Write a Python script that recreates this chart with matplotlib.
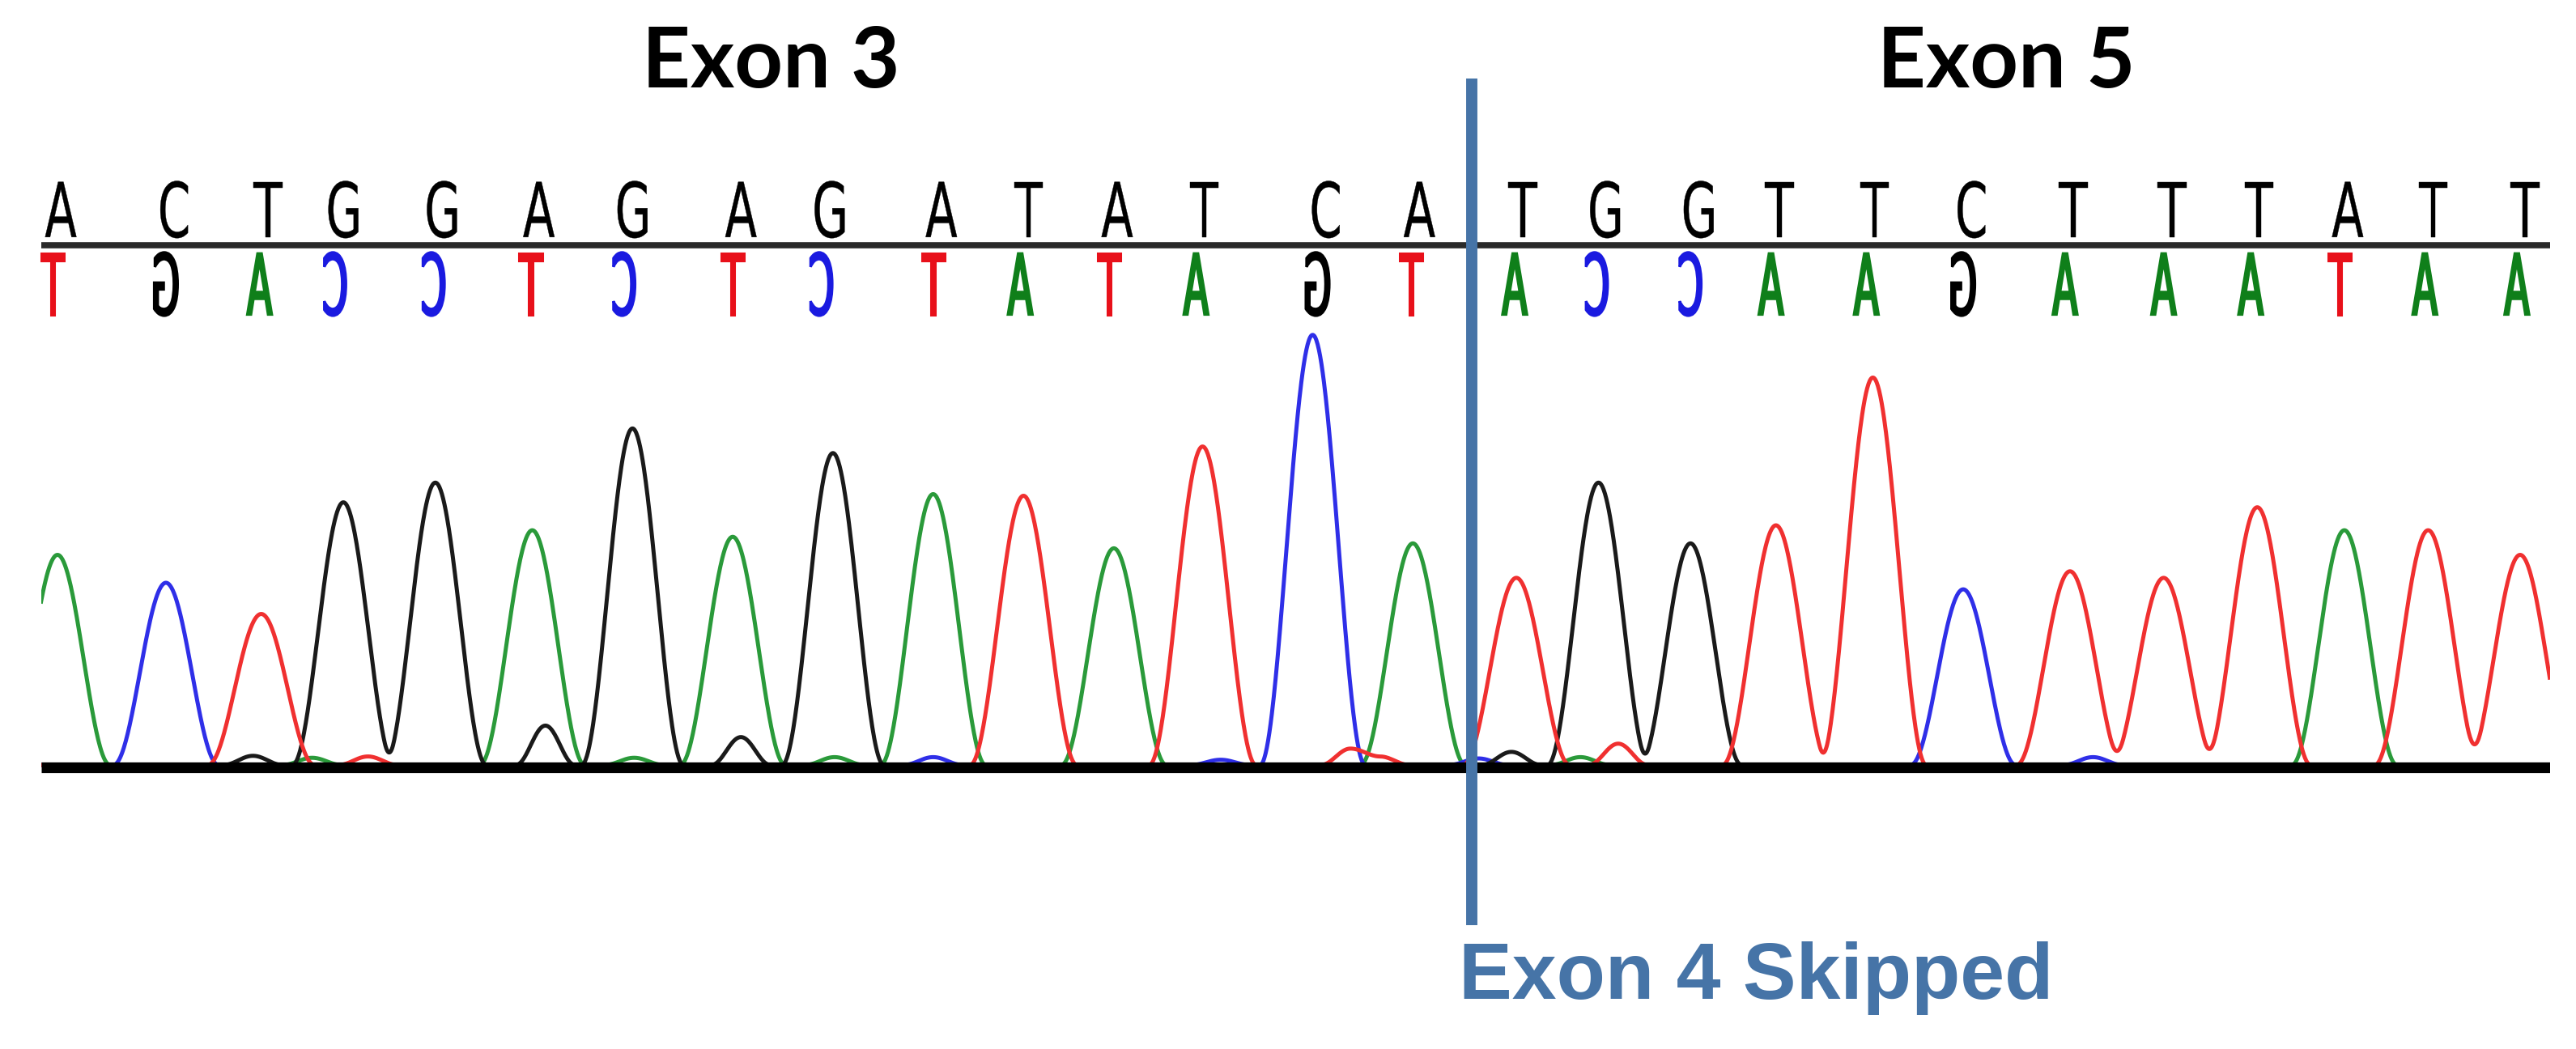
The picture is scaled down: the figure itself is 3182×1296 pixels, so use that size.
import numpy as np
import matplotlib
matplotlib.use('Agg')
import matplotlib.pyplot as plt
from matplotlib.textpath import TextPath
from matplotlib.patches import PathPatch
from matplotlib.font_manager import FontProperties
from matplotlib.transforms import Affine2D

# base calls (exon 3 | exon 5) and where the caller put them (scan units)
bases = list("ACTGGAGAGATATCA" + "TGGTTCTTTATT")
call_pos = [37, 106, 163, 209, 269, 328, 385, 451, 505, 573, 626, 680, 733, 807, 864,
            927, 977, 1034, 1083, 1141, 1200, 1262, 1322, 1375, 1429, 1481, 1537]
complement = {'A': 'T', 'C': 'G', 'G': 'C', 'T': 'A'}

# main peaks: one per base
peak_pos = [35, 101, 159, 209, 265, 324, 385, 446, 507, 568, 623, 678, 732, 799, 860,
            923, 973, 1029, 1081, 1140, 1195, 1260, 1317, 1374, 1427, 1478, 1534]
peak_height = [640, 555, 460, 800, 860, 715, 1025, 695, 950, 825, 820, 660, 970, 1310, 675,
               570, 860, 675, 730, 1180, 535, 590, 570, 785, 715, 715, 640]

# small background bumps per channel
minor_base = ['G', 'G', 'G', 'G', 'T', 'T', 'T', 'T', 'A', 'A', 'A', 'A', 'C', 'C', 'C', 'C']
minor_pos = [154, 332, 451, 920, 224, 822, 840, 985, 190, 386, 508, 962, 568, 743, 900, 1274]
minor_height = [28, 120, 85, 40, 26, 50, 26, 65, 22, 22, 24, 24, 24, 16, 20, 24]

split_pos = 896          # exon 3 / exon 5 junction
scan_start, scan_end = 25, 1552

trace_col = {'A': '#2a9a3a', 'C': '#2f2fe8', 'G': '#1a1a1a', 'T': '#f03030'}
letter_col = {'A': '#0f7f1a', 'C': '#1a1ae0', 'G': '#000000', 'T': '#e8101a'}
half_w = {'A': 32.0, 'C': 32.0, 'G': 31.0, 'T': 32.5}
exon_blue = '#4674a7'


def bump(x, p, h, w):
    d = np.abs(x - p)
    return h * np.where(d < w, np.cos(np.pi * d / (2 * w)) ** 2, 0.0)


fig = plt.figure(figsize=(31.82, 12.96), dpi=100)
fig.patch.set_facecolor('white')
ax = fig.add_axes([25 / 1568, 1 - 480 / 639, (1552 - 25) / 1568, 380 / 639])
ax.set_xlim(scan_start, scan_end)
ax.set_ylim(-70, 1830)
ax.axis('off')

x = np.linspace(scan_start, scan_end, 4000)
for b in 'ACGT':
    y = np.zeros_like(x)
    for p, h, c in zip(peak_pos, peak_height, bases):
        if c == b:
            y += bump(x, p, h, half_w[b])
    for p, h, c in zip(minor_pos, minor_height, minor_base):
        if c == b:
            y += bump(x, p, h, 18.0)
    ax.plot(x, y, color=trace_col[b], lw=3.6, zorder=2)

# thick baseline and the line under the calls
ax.plot([scan_start, scan_end], [-8, -8], color='black', lw=9.5, zorder=3,
        solid_capstyle='butt')
ax.plot([scan_start, scan_end], [1583, 1583], color='#2a2a2a', lw=5.5, zorder=3,
        solid_capstyle='butt', clip_on=False)

top_prop = FontProperties(family='DejaVu Sans')


def draw_letter(ch, xc, y0, cap_h, a_w, color, mirror=False, edge=0.0):
    ref_t = TextPath((0, 0), 'T', size=1, prop=top_prop).get_extents()
    ref_a = TextPath((0, 0), 'A', size=1, prop=top_prop).get_extents()
    sx = a_w / ref_a.width
    sy = cap_h / ref_t.height
    tp = TextPath((0, 0), ch, size=1, prop=top_prop)
    ext = tp.get_extents()
    tr = Affine2D().translate(-(ext.x0 + ext.x1) / 2, 0)
    if mirror:
        tr = tr.scale(-1, 1)
    tr = tr.scale(sx, sy).translate(xc, y0)
    patch = PathPatch(tr.transform_path(tp), facecolor=color, edgecolor=color,
                      linewidth=edge, transform=ax.transData, clip_on=False, zorder=4)
    ax.add_patch(patch)


for b, p in zip(bases, call_pos):
    draw_letter(b, p, 1608, 168, 19, 'black', edge=0.3)
    cb = complement[b]
    draw_letter(cb, p - 5, 1372, 186, 15, letter_col[cb], mirror=True, edge=2.2)

# exon annotations
ax.plot([split_pos, split_pos], [2091, -488], color=exon_blue, lw=10, clip_on=False,
        zorder=5, solid_capstyle='butt')
ax.text(469, 2064, 'Exon 3', ha='center', va='baseline', fontsize=75,
        fontweight='bold', family='Lato', color='black')
ax.text(1221, 2064, 'Exon 5', ha='center', va='baseline', fontsize=75,
        fontweight='bold', family='Lato', color='black')
ax.text(888, -712, 'Exon 4 Skipped', ha='left', va='baseline', fontsize=71,
        fontweight='bold', family='Liberation Sans', color=exon_blue)

fig.savefig('out.png', dpi=100, facecolor='white')
